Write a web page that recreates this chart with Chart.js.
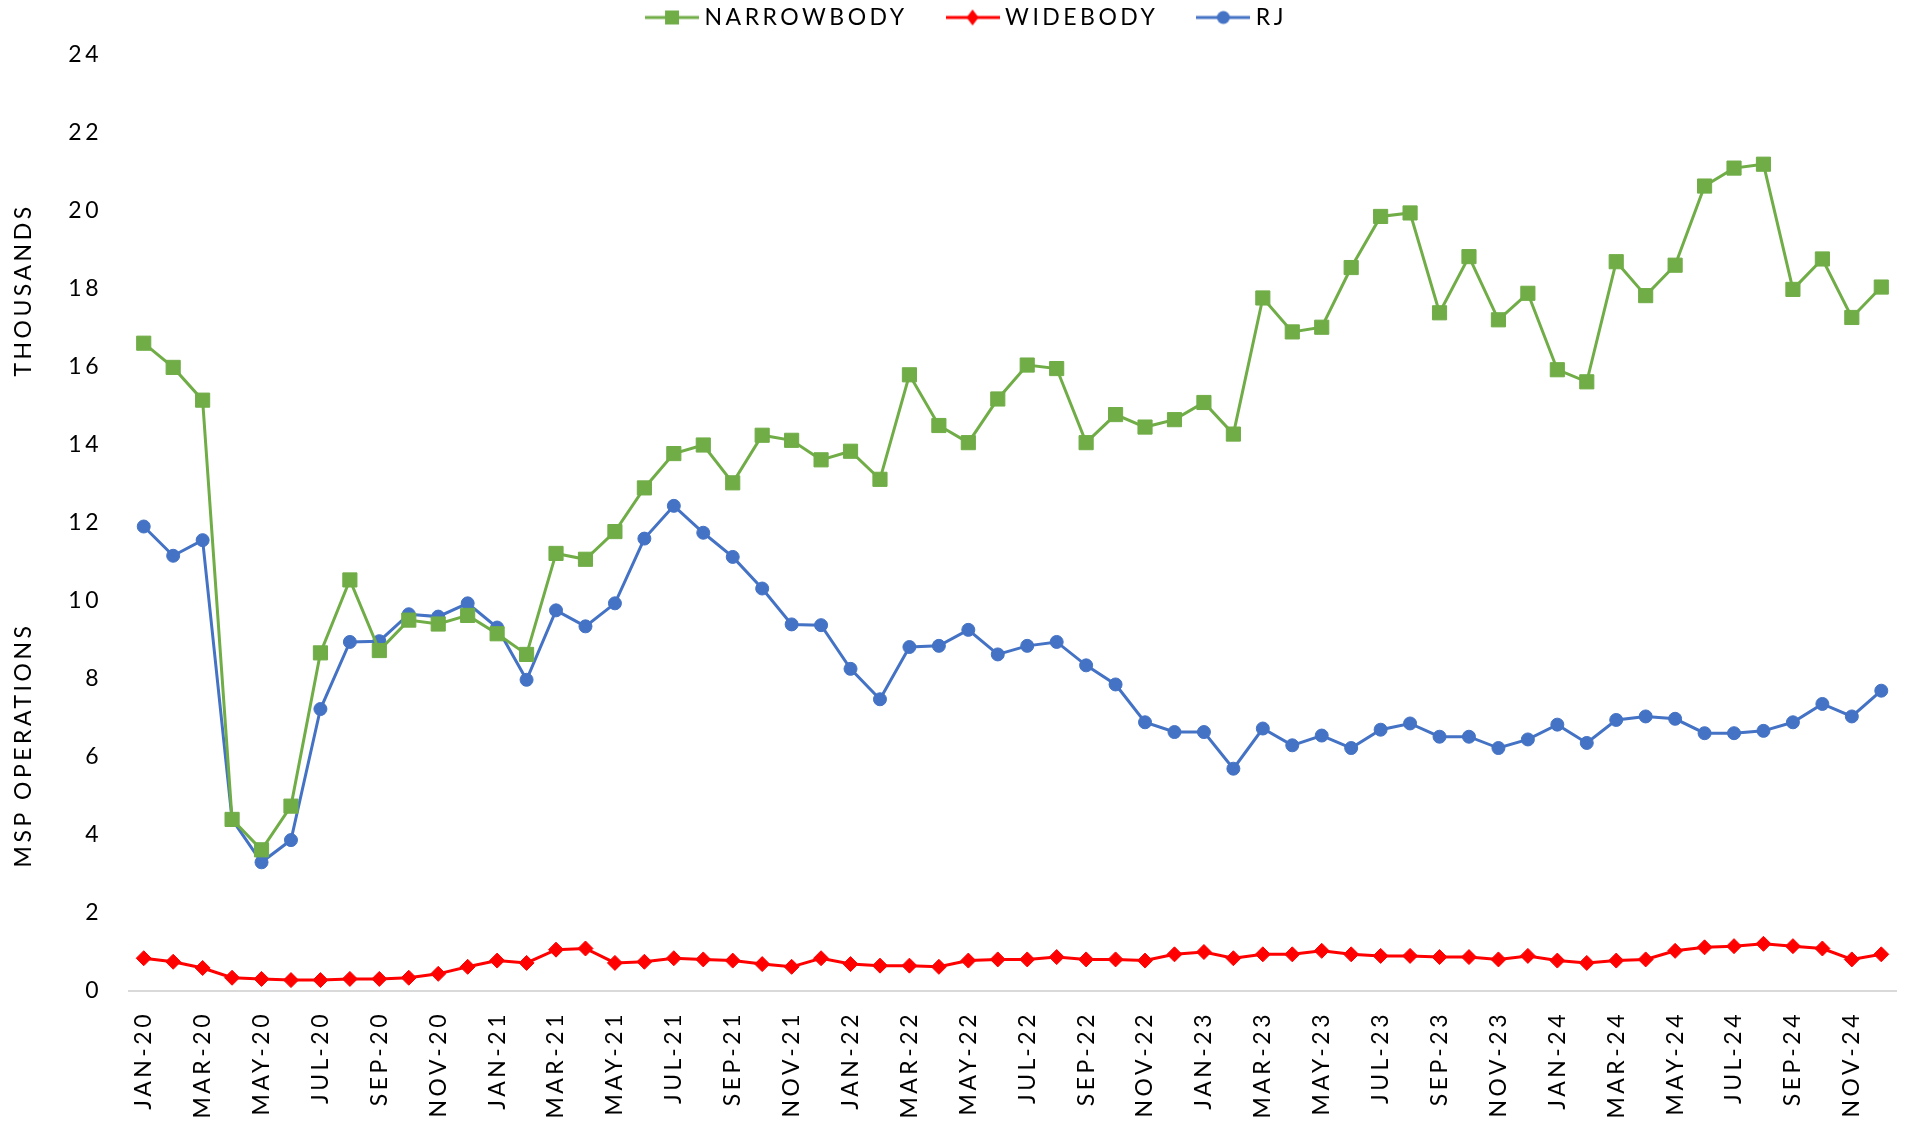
<!DOCTYPE html>
<html>
<head>
<meta charset="utf-8">
<script src="https://cdn.jsdelivr.net/npm/chart.js@4.4.1/dist/chart.umd.min.js"></script>
<style>
  html, body { margin: 0; padding: 0; background: #ffffff; }
  #wrap { width: 1907px; height: 1128px; position: relative; }
</style>
</head>
<body>
<div id="wrap"><canvas id="c" width="1907" height="1128"></canvas></div>
<script>
const categories = [
  'JAN-20','FEB-20','MAR-20','APR-20','MAY-20','JUN-20','JUL-20','AUG-20','SEP-20','OCT-20','NOV-20','DEC-20',
  'JAN-21','FEB-21','MAR-21','APR-21','MAY-21','JUN-21','JUL-21','AUG-21','SEP-21','OCT-21','NOV-21','DEC-21',
  'JAN-22','FEB-22','MAR-22','APR-22','MAY-22','JUN-22','JUL-22','AUG-22','SEP-22','OCT-22','NOV-22','DEC-22',
  'JAN-23','FEB-23','MAR-23','APR-23','MAY-23','JUN-23','JUL-23','AUG-23','SEP-23','OCT-23','NOV-23','DEC-23',
  'JAN-24','FEB-24','MAR-24','APR-24','MAY-24','JUN-24','JUL-24','AUG-24','SEP-24','OCT-24','NOV-24','DEC-24'
];

const narrowbody = [
  16.61, 15.99, 15.15, 4.40, 3.62, 4.74, 8.67, 10.54, 8.73, 9.51, 9.41, 9.63,
  9.16, 8.63, 11.22, 11.07, 11.78, 12.90, 13.78, 14.00, 13.03, 14.25, 14.12, 13.62,
  13.84, 13.12, 15.80, 14.50, 14.06, 15.18, 16.05, 15.96, 14.06, 14.78, 14.46, 14.65,
  15.09, 14.28, 17.77, 16.90, 17.02, 18.55, 19.86, 19.95, 17.39, 18.83, 17.21, 17.89,
  15.93, 15.62, 18.70, 17.83, 18.61, 20.64, 21.10, 21.20, 17.99, 18.77, 17.27, 18.05
];

const widebody = [
  0.84, 0.75, 0.59, 0.34, 0.31, 0.28, 0.28, 0.31, 0.31, 0.34, 0.44, 0.62,
  0.78, 0.72, 1.06, 1.09, 0.72, 0.75, 0.84, 0.81, 0.78, 0.69, 0.62, 0.84,
  0.69, 0.65, 0.65, 0.62, 0.78, 0.81, 0.81, 0.87, 0.81, 0.81, 0.78, 0.94,
  1.00, 0.84, 0.94, 0.94, 1.03, 0.94, 0.90, 0.90, 0.87, 0.87, 0.81, 0.90,
  0.78, 0.72, 0.78, 0.81, 1.03, 1.12, 1.15, 1.21, 1.15, 1.09, 0.81, 0.94
];

const rj = [
  11.91, 11.16, 11.56, 4.40, 3.30, 3.87, 7.23, 8.95, 8.97, 9.66, 9.60, 9.94,
  9.32, 7.98, 9.76, 9.35, 9.94, 11.60, 12.44, 11.75, 11.13, 10.32, 9.40, 9.38,
  8.26, 7.48, 8.82, 8.85, 9.26, 8.63, 8.85, 8.95, 8.35, 7.86, 6.89, 6.64,
  6.64, 5.70, 6.73, 6.30, 6.55, 6.23, 6.70, 6.86, 6.52, 6.52, 6.23, 6.45,
  6.83, 6.36, 6.95, 7.04, 6.98, 6.61, 6.61, 6.67, 6.89, 7.36, 7.04, 7.70
];

const yTicks = [0, 2, 4, 6, 8, 10, 12, 14, 16, 18, 20, 22, 24];
const seriesNames = ['NARROWBODY', 'WIDEBODY', 'RJ'];
const axisTitle = 'MSP OPERATIONS';
const unitTitle = 'THOUSANDS';

const GREEN = '#70AD47', RED = '#FF0000', BLUE = '#4472C4';
const FONT = 'Lato, "Liberation Sans", sans-serif';
const FSIZE = 23;
const LS = '3.5px';

function legendIcon(color, kind) {
  const c = document.createElement('canvas');
  c.width = 54; c.height = 18;
  const g = c.getContext('2d');
  g.strokeStyle = color; g.lineWidth = 3;
  g.beginPath(); g.moveTo(0, 9); g.lineTo(54, 9); g.stroke();
  g.fillStyle = color;
  g.beginPath();
  if (kind === 'rect') { g.rect(20, 2, 14, 14); }
  else if (kind === 'rectRot') { g.moveTo(27, 1); g.lineTo(33, 9); g.lineTo(27, 17); g.lineTo(21, 9); g.closePath(); }
  else { g.arc(27, 9, 6.5, 0, Math.PI * 2); }
  g.fill();
  return c;
}
const icons = [legendIcon(GREEN, 'rect'), legendIcon(RED, 'rectRot'), legendIcon(BLUE, 'circle')];

function setLS(chart) { chart.ctx.letterSpacing = LS; }

const spacingPlugin = {
  id: 'spacing',
  beforeUpdate: setLS,
  beforeLayout(chart) {
    setLS(chart);
    const lg = chart.legend;
    if (lg && !lg._patched) {
      lg._patched = true;
      const origFit = lg.fit;
      lg.fit = function () { origFit.call(this); this.height = 93; };
    }
  },
  afterLayout(chart) {
    const lg = chart.legend;
    if (lg) { lg.left += 20; lg.right += 20; }
  },
  beforeDraw: setLS
};

const titlePlugin = {
  id: 'ytitles',
  afterDraw(chart) {
    const ctx = chart.ctx;
    ctx.save();
    ctx.letterSpacing = LS;
    ctx.fillStyle = '#000000';
    ctx.font = FSIZE + 'px ' + FONT;
    ctx.textAlign = 'center';
    ctx.textBaseline = 'middle';
    [[unitTitle, 24, 290], [axisTitle, 24, 745]].forEach(([t, x, y]) => {
      ctx.save();
      ctx.translate(x, y);
      ctx.rotate(-Math.PI / 2);
      ctx.fillText(t, 0, 0);
      ctx.restore();
    });
    ctx.restore();
  }
};

Chart.defaults.font.family = FONT;
Chart.defaults.font.size = FSIZE;
Chart.defaults.color = '#000000';

new Chart(document.getElementById('c'), {
  type: 'line',
  data: {
    labels: categories,
    datasets: [
      { label: seriesNames[0], data: narrowbody, borderColor: GREEN, backgroundColor: GREEN,
        borderWidth: 3, pointStyle: 'rect', pointRadius: 10, pointBorderWidth: 1, pointBackgroundColor: GREEN, pointBorderColor: GREEN, tension: 0 },
      { label: seriesNames[1], data: widebody, borderColor: RED, backgroundColor: RED,
        borderWidth: 3, pointStyle: 'rectRot', pointRadius: 7.5, pointBorderWidth: 1, pointBackgroundColor: RED, pointBorderColor: RED, tension: 0 },
      { label: seriesNames[2], data: rj, borderColor: BLUE, backgroundColor: BLUE,
        borderWidth: 3, pointStyle: 'circle', pointRadius: 6.5, pointBorderWidth: 1, pointBackgroundColor: BLUE, pointBorderColor: BLUE, tension: 0 }
    ]
  },
  options: {
    responsive: false,
    animation: false,
    events: [],
    layout: { padding: { top: -38, left: 0, right: 9, bottom: 0 } },
    plugins: {
      tooltip: { enabled: false },
      legend: {
        position: 'top',
        align: 'center',
        labels: {
          usePointStyle: true,
          pointStyleWidth: 42,
          padding: 44,
          color: '#000000',
          font: { size: FSIZE, family: FONT },
          generateLabels(chart) {
            const items = Chart.defaults.plugins.legend.labels.generateLabels(chart);
            items.forEach((it, i) => { it.pointStyle = icons[i]; });
            return items;
          }
        }
      }
    },
    scales: {
      x: {
        offset: true,
        grid: { display: false, drawTicks: false },
        border: { display: true, color: '#D9D9D9', width: 2 },
        ticks: {
          autoSkip: false,
          minRotation: 90,
          maxRotation: 90,
          padding: 20,
          color: '#000000',
          font: { size: FSIZE, family: FONT },
          callback(v, i) { return i % 2 === 0 ? categories[i] : ''; }
        },
        afterFit(s) { s.height = 137; s.paddingLeft = 0; s.paddingRight = 0; }
      },
      y: {
        min: 0,
        max: 24,
        grid: { display: false, drawTicks: false },
        border: { display: false },
        afterBuildTicks(s) { s.ticks = yTicks.map(v => ({ value: v })); },
        ticks: {
          padding: 27,
          color: '#000000',
          font: { size: FSIZE, family: FONT }
        },
        afterFit(s) { s.width = 129; s.paddingTop = 0; s.paddingBottom = 0; }
      }
    }
  },
  plugins: [spacingPlugin, titlePlugin]
});
</script>
</body>
</html>
